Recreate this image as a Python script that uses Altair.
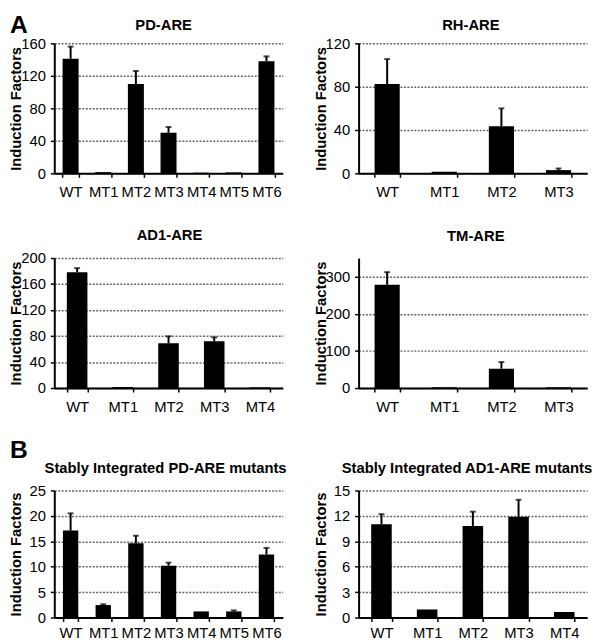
import altair as alt
import pandas as pd

FONT = "Liberation Sans"

# ---- data ----
pd_cats = ["WT", "MT1", "MT2", "MT3", "MT4", "MT5", "MT6"]
pd_vals = [141, 1.5, 110, 50, 0.8, 1.2, 138]
pd_errs = [15, 0, 16, 7, 0, 0, 6]
pd_ticks = [0, 40, 80, 120, 160]

rh_cats = ["WT", "MT1", "MT2", "MT3"]
rh_vals = [82.5, 1.5, 43.5, 3]
rh_errs = [23, 0, 16.5, 1.5]
rh_ticks = [0, 40, 80, 120]

ad_cats = ["WT", "MT1", "MT2", "MT3", "MT4"]
ad_vals = [178, 1.5, 69, 72, 1]
ad_errs = [6.5, 0, 10.5, 6, 0]
ad_ticks = [0, 40, 80, 120, 160, 200]

tm_cats = ["WT", "MT1", "MT2", "MT3"]
tm_vals = [278, 2, 52, 2]
tm_errs = [34, 0, 18, 0]
tm_ticks = [0, 100, 200, 300]

spd_cats = ["WT", "MT1", "MT2", "MT3", "MT4", "MT5", "MT6"]
spd_vals = [17.1, 2.45, 14.6, 10.2, 1.2, 1.2, 12.4]
spd_errs = [3.4, 0.15, 1.5, 0.6, 0, 0.2, 1.3]
spd_ticks = [0, 5, 10, 15, 20, 25]

sad_cats = ["WT", "MT1", "MT2", "MT3", "MT4"]
sad_vals = [11.0, 0.95, 10.8, 11.9, 0.65]
sad_errs = [1.2, 0, 1.7, 2.0, 0]
sad_ticks = [0, 3, 6, 9, 12, 15]

titles = ["PD-ARE", "RH-ARE", "AD1-ARE", "TM-ARE",
          "Stably Integrated PD-ARE mutants", "Stably Integrated AD1-ARE mutants"]
y_title = "Induction Factors"


def panel(title, cats, vals, errs, ticks, ymax, W, H, top, title_y, title_dx,
          lab_pad, pad_inner, letter=None, letter_y=-31):
    df = pd.DataFrame({"cat": cats, "val": vals, "err": errs})
    xenc = alt.X("cat:N", sort=cats, title=None,
                 scale=alt.Scale(paddingInner=pad_inner, paddingOuter=pad_inner / 2),
                 axis=alt.Axis(labelPadding=lab_pad, labelOverlap=False))
    yscale = alt.Scale(domain=[0, ymax], range=[H, top], nice=False)
    yaxis = alt.Axis(values=ticks, title=y_title, titleX=-34,
                     titleY=(H + top) / 2, titleAngle=270, titleBaseline="alphabetic",
                     titleAlign="center", grid=True, gridColor="#666666",
                     gridDash=[2, 1.5], gridWidth=1.5, labelPadding=5)
    base = alt.Chart(df)
    bars = base.mark_bar(color="black").encode(
        x=xenc, y=alt.Y("val:Q", scale=yscale, axis=yaxis))
    eb = base.transform_filter("datum.err > 0").transform_calculate(hi="datum.val + datum.err")
    rule = eb.mark_rule(color="black", strokeWidth=2).encode(
        x=xenc, y=alt.Y("val:Q", scale=yscale, axis=yaxis), y2="hi:Q")
    cap = eb.mark_tick(color="black", thickness=2, size=6).encode(
        x=xenc, y=alt.Y("hi:Q", scale=yscale, axis=yaxis))
    ttl = alt.Chart(pd.DataFrame({"t": [title]})).mark_text(
        font=FONT, fontSize=15, fontWeight="bold", align="center",
        baseline="alphabetic", color="black").encode(
        text="t:N", x=alt.value(W / 2 + title_dx), y=alt.value(title_y))
    layers = [bars, rule, cap, ttl]
    if letter:
        lt = alt.Chart(pd.DataFrame({"t": [letter]})).mark_text(
            font=FONT, fontSize=25, fontWeight="bold", align="left", baseline="top",
            color="black").encode(text="t:N", x=alt.value(-45), y=alt.value(letter_y))
        layers.append(lt)
    return alt.layer(*layers).properties(width=W, height=H)


W = 232
p1 = panel(titles[0], pd_cats, pd_vals, pd_errs, pd_ticks, 160, W, 132, 0, -14, -5, 8, 0.51, "A")
p2 = panel(titles[1], rh_cats, rh_vals, rh_errs, rh_ticks, 120, W, 132, 0, -14, -2, 8, 0.56)
p3 = panel(titles[2], ad_cats, ad_vals, ad_errs, ad_ticks, 200, W, 132, 0, -18, 1, 8, 0.55)
p4 = panel(titles[3], tm_cats, tm_vals, tm_errs, tm_ticks, 350, W, 132, 0, -17, 3, 8, 0.56)
p5 = panel(titles[4], spd_cats, spd_vals, spd_errs, spd_ticks, 25, W, 147, 18, 0, -3, 4, 0.53,
           "B", letter_y=-35)
p6 = panel(titles[5], sad_cats, sad_vals, sad_errs, sad_ticks, 15, W, 147, 18, 0, -6, 4, 0.55)

chart = alt.concat(p1, p2, p3, p4, p5, p6, columns=2,
                   spacing={"row": 86, "column": 77},
                   bounds="flush", align="each").properties(padding=0)

chart = chart.configure_view(stroke=None).configure_axis(
    labelFont=FONT, labelFontSize=15, labelColor="black",
    titleFont=FONT, titleFontSize=15, titleFontWeight="bold", titleColor="black",
    domainColor="black", domainWidth=2, tickColor="black", tickWidth=1.5, tickSize=4,
).configure_axisX(grid=False, tickBand="extent", labelAngle=0)

chart.save("out.html", embed_options={"renderer": "svg", "actions": False})
